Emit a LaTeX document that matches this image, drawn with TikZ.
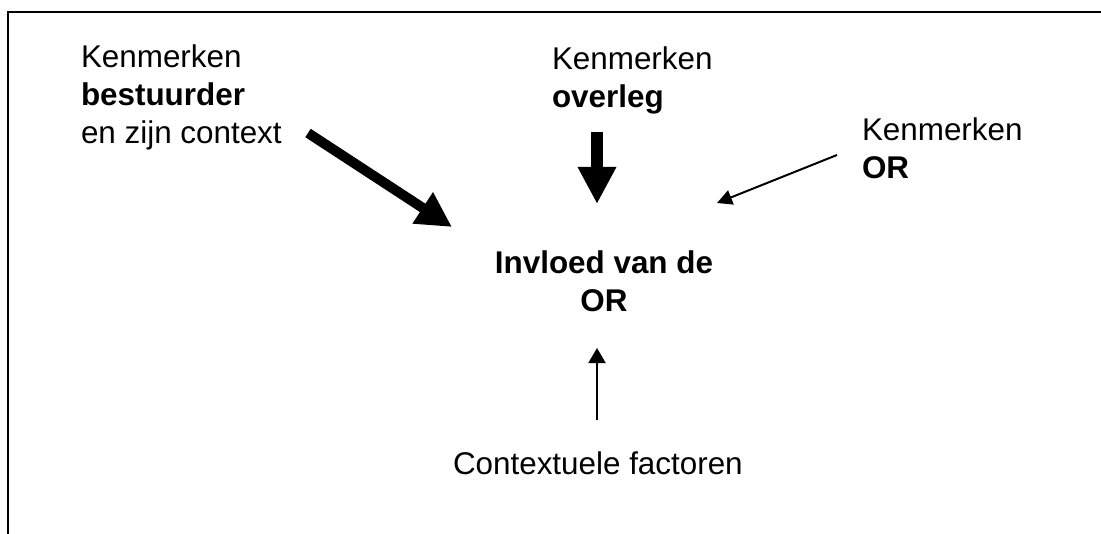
\documentclass[tikz,border=0pt]{standalone}
\usepackage{fontspec}
\setmainfont{Liberation Sans}
\usetikzlibrary{arrows.meta}

\begin{document}
\begin{tikzpicture}[x=0.5pt,y=-0.5pt,
  txt/.style={inner sep=0pt, outer sep=0pt, font=\fontsize{15.7pt}{19pt}\selectfont},
  blockleft/.style={txt, align=left, anchor=north west},
  blockcentre/.style={txt, align=center, anchor=north},
  framestroke/.style={line width=1pt, line join=miter},
  heavyarrow/.style={line width=5pt, -{Triangle[length=17.5pt,width=17.5pt]}},
  downarrow/.style={line width=6pt, -{Triangle[length=18.5pt,width=18pt]}},
  thinarrow/.style={line width=1pt, -{Triangle[length=7.5pt,width=7.5pt]}},
  uparrow/.style={line width=1pt, -{Triangle[length=7.5pt,width=8.5pt]}}]
  \useasboundingbox (0,0) rectangle (1101,534);

  % open frame: left and top edges only
  \coordinate (frameBL) at (7.5,534);
  \coordinate (frameTL) at (7.5,11.8);
  \coordinate (frameTR) at (1101,11.8);
  \draw[framestroke] (frameBL) -- (frameTL) -- (frameTR);

  % text blocks
  \node[blockleft] (bestuurder) at (81,45) {Kenmerken\\\textbf{bestuurder}\\en zijn context};
  \node[blockleft] (overleg) at (552,47) {Kenmerken\\\textbf{overleg}};
  \node[blockleft] (kenmerkenOR) at (862,118) {Kenmerken\\\textbf{OR}};
  \node[blockcentre] (invloed) at (604,251) {\textbf{Invloed van de}\\\textbf{OR}};
  \node[txt, anchor=base west] (context) at (453,474) {Contextuele factoren};

  % arrow end points
  \coordinate (bStart) at (308,133);
  \coordinate (bEnd) at (452,227);
  \coordinate (oStart) at (597,132);
  \coordinate (oEnd) at (597,204);
  \coordinate (rStart) at (837,155);
  \coordinate (rEnd) at (717,203);
  \coordinate (cStart) at (597,420);
  \coordinate (cEnd) at (597,348);

  % influences on the central node
  \draw[heavyarrow] (bStart) -- (bEnd);
  \draw[downarrow] (oStart) -- (oEnd);
  \draw[thinarrow] (rStart) -- (rEnd);
  \draw[uparrow] (cStart) -- (cEnd);
\end{tikzpicture}
\end{document}
